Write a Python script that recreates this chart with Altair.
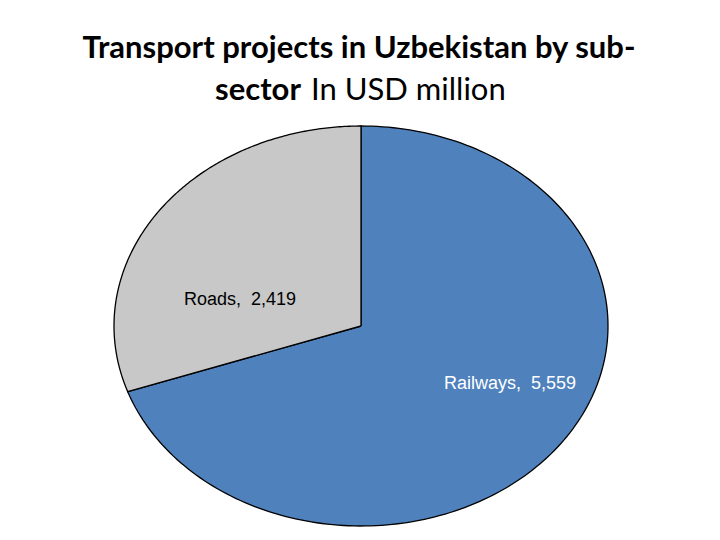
import altair as alt
import pandas as pd
import numpy as np

# Data
categories = ["Railways", "Roads"]
values = [5559, 2419]
labels = ["Railways,\u00a0 5,559", "Roads,\u00a0 2,419"]
colors = ["#4f81bd", "#c8c8c8"]

# Build ellipse sector outlines (angles measured clockwise from 12 o'clock)
total = sum(values)
rows = []
start = 0.0
for cat, v in zip(categories, values):
    end = start + v / total * 2 * np.pi
    angs = np.linspace(start, end, 200)
    seq = 0
    rows.append({"slice": cat, "o": seq, "x": 0.0, "y": 0.0}); seq += 1
    for a in angs:
        rows.append({"slice": cat, "o": seq, "x": float(np.sin(a)), "y": float(np.cos(a))}); seq += 1
    rows.append({"slice": cat, "o": seq, "x": 0.0, "y": 0.0})
    start = end
df = pd.DataFrame(rows)

W, H = 704, 524
cx, cy, rx, ry = 353, 318, 247, 200

xs = alt.Scale(domain=[-1, 1], range=[cx - rx, cx + rx])
ys = alt.Scale(domain=[-1, 1], range=[cy + ry, cy - ry])

layers = []
for cat, col in zip(categories, colors):
    layers.append(
        alt.Chart(df[df["slice"] == cat]).mark_line(fill=col, stroke="black", strokeWidth=1.3, interpolate="linear")
        .encode(x=alt.X("x:Q", scale=xs, axis=None), y=alt.Y("y:Q", scale=ys, axis=None), order="o:Q")
    )

lab_df = pd.DataFrame({"label": labels, "slice": categories})
road_lab = alt.Chart(lab_df[lab_df["slice"] == "Roads"]).mark_text(
    font="Liberation Sans", fontSize=18, color="black", align="center", baseline="middle"
).encode(text="label:N", x=alt.value(232), y=alt.value(292))
rail_lab = alt.Chart(lab_df[lab_df["slice"] == "Railways"]).mark_text(
    font="Liberation Sans", fontSize=18, color="white", align="center", baseline="middle"
).encode(text="label:N", x=alt.value(502), y=alt.value(376))

t_df = pd.DataFrame({"t1": ["Transport projects in Uzbekistan by sub-"], "t2a": ["sector"], "t2b": ["In USD million"]})
t1 = alt.Chart(t_df).mark_text(font="Lato", fontSize=31, fontWeight="bold", align="center", baseline="alphabetic", color="black").encode(
    text="t1:N", x=alt.value(351), y=alt.value(50))
t2a = alt.Chart(t_df).mark_text(font="Lato", fontSize=31, fontWeight="bold", align="right", baseline="alphabetic", color="black").encode(
    text="t2a:N", x=alt.value(293), y=alt.value(92))
t2b = alt.Chart(t_df).mark_text(font="Lato", fontSize=31, fontWeight="normal", align="left", baseline="alphabetic", color="black").encode(
    text="t2b:N", x=alt.value(303), y=alt.value(92))

chart = alt.layer(*layers, road_lab, rail_lab, t1, t2a, t2b).properties(
    width=W, height=H, autosize=alt.AutoSizeParams(type="fit", contains="padding"), padding=0
).configure_view(stroke=None)

chart.save("out.html", embed_options={"renderer": "svg", "actions": False})
